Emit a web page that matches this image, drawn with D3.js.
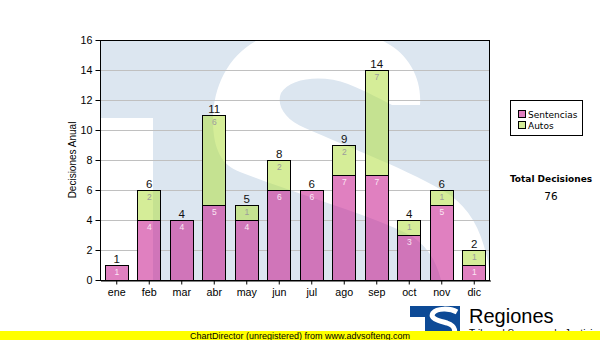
<!DOCTYPE html>
<html>
<head>
<meta charset="utf-8">
<script src="https://cdn.jsdelivr.net/npm/d3@7/dist/d3.min.js"></script>
<style>
  html, body { margin: 0; padding: 0; background: #ffffff; }
  svg { display: block; }
</style>
</head>
<body>
<svg id="chart" width="600" height="340"></svg>
<script>
// Monthly decisions, stacked by type
const months = ["ene", "feb", "mar", "abr", "may", "jun", "jul", "ago", "sep", "oct", "nov", "dic"];
const sentencias = [1, 4, 4, 5, 4, 6, 6, 7, 7, 3, 5, 1];
const autos = [0, 2, 0, 6, 1, 2, 0, 2, 7, 1, 1, 1];
const seriesNames = ["Sentencias", "Autos"];
const yTicks = [0, 2, 4, 6, 8, 10, 12, 14, 16];
const yTitle = "Decisiones Anual";
const totalTitle = "Total Decisiones";
const brandName = "Regiones";
const brandSub = "Tribunal Supremo de Justicia";
const footerText = "ChartDirector (unregistered) from www.advsofteng.com";

// semi-transparent fills so the emblem shows through the bars
const colors = { sentencias: "rgb(199,24,140)", autos: "rgb(179,222,68)" };
const fillAlpha = 0.55;
const swatchColors = { sentencias: "#e07fc0", autos: "#d5ed98" };
const innerLabelColors = { sentencias: "#fbe6f3", autos: "#9c9c9c" };

const svg = d3.select("#chart");
const plot = { left: 100, top: 40, right: 490, bottom: 280 };
const pw = plot.right - plot.left, ph = plot.bottom - plot.top;

const x = d3.scaleBand().domain(months).range([plot.left, plot.right])
  .paddingInner(0.283).paddingOuter(0.1415);
const y = d3.scaleLinear().domain([0, 16]).range([plot.bottom, plot.top]);

const rows = months.map((m, i) => ({ month: m, sentencias: sentencias[i], autos: autos[i] }));
const keys = ["sentencias", "autos"];
const stacked = d3.stack().keys(keys)(rows);

const bx = d => Math.round(x(d.data ? d.data.month : d.month)) + 0.5;
const bw = Math.round(x.bandwidth());

const defs = svg.append("defs");
defs.append("clipPath").attr("id", "plotClip")
  .append("rect").attr("x", plot.left).attr("y", plot.top).attr("width", pw).attr("height", ph);

// grid lines are hidden behind the bars
const gridMask = defs.append("mask").attr("id", "gridMask").attr("maskUnits", "userSpaceOnUse")
  .attr("x", 0).attr("y", 0).attr("width", 600).attr("height", 340);
gridMask.append("rect").attr("x", 0).attr("y", 0).attr("width", 600).attr("height", 340).attr("fill", "#ffffff");
gridMask.selectAll("rect.bar").data(rows).join("rect").attr("class", "bar")
  .attr("x", d => bx(d)).attr("y", d => Math.round(y(d.sentencias + d.autos)) + 0.5)
  .attr("width", bw).attr("height", d => plot.bottom - Math.round(y(d.sentencias + d.autos)))
  .attr("fill", "#000000");

// plot background
svg.append("rect").attr("x", plot.left).attr("y", plot.top).attr("width", pw).attr("height", ph)
  .attr("fill", "#ffffff");

// large emblem drawn faintly across the plot area
const mark = svg.append("g").attr("clip-path", "url(#plotClip)");
const markG = mark.append("g")
  .attr("transform", `translate(${plot.left},${plot.top}) scale(${pw / 390},${ph / 240})`);
markG.append("rect").attr("x", 0).attr("y", 0).attr("width", 390).attr("height", 240).attr("fill", "#dce6f0");
markG.append("rect").attr("x", 0).attr("y", 78).attr("width", 53).attr("height", 170).attr("fill", "#ffffff");
markG.append("path").attr("fill", "#ffffff")
  .attr("transform", "translate(-100,-40)")
  .attr("d", "M392,105 L420,105 C422,80 410,55 385,42 C355,25 295,25 262,38 C230,52 213,85 213,120 " +
             "C213,150 222,165 240,172 C300,195 370,215 410,235 C430,248 440,265 445,300 L492,300 " +
             "C490,250 478,215 450,195 C410,170 350,148 305,128 C285,120 276,105 281,93 " +
             "C290,78 322,74 348,84 C368,92 382,100 392,105 Z");

// horizontal grid
svg.append("g").attr("mask", "url(#gridMask)")
  .selectAll("line").data(yTicks.filter(t => t > 0 && t < 16)).join("line")
  .attr("x1", plot.left).attr("x2", plot.right)
  .attr("y1", d => Math.round(y(d)) + 0.5).attr("y2", d => Math.round(y(d)) + 0.5)
  .attr("stroke", "#c0c0c0").attr("stroke-width", 1);

// stacked bars
const barG = svg.append("g");
stacked.forEach(layer => {
  barG.append("g").selectAll("rect")
    .data(layer.filter(d => d[1] > d[0]))
    .join("rect")
    .attr("x", d => bx(d))
    .attr("y", d => Math.round(y(d[1])) + 0.5)
    .attr("width", bw)
    .attr("height", d => Math.round(y(d[0])) - Math.round(y(d[1])))
    .attr("fill", colors[layer.key]).attr("fill-opacity", fillAlpha)
    .attr("stroke", "#000000").attr("stroke-width", 1);
});

// value labels inside segments
stacked.forEach(layer => {
  svg.append("g").selectAll("text")
    .data(layer.filter(d => d[1] > d[0]))
    .join("text")
    .attr("x", d => x(d.data.month) + x.bandwidth() / 2 + 0.5)
    .attr("y", d => y(d[1]) + 10)
    .attr("text-anchor", "middle")
    .attr("font-family", "Liberation Sans, Arial, sans-serif")
    .attr("font-size", "8.5px")
    .attr("fill", innerLabelColors[layer.key])
    .text(d => d[1] - d[0]);
});

// totals above bars
svg.append("g").selectAll("text").data(rows).join("text")
  .attr("x", d => x(d.month) + x.bandwidth() / 2 + 0.5)
  .attr("y", d => y(d.sentencias + d.autos) - 2.5)
  .attr("text-anchor", "middle")
  .attr("font-family", "Liberation Sans, Arial, sans-serif")
  .attr("font-size", "11.5px")
  .attr("fill", "#111111")
  .text(d => d.sentencias + d.autos);

// plot frame
svg.append("rect").attr("x", plot.left + 0.5).attr("y", plot.top + 0.5)
  .attr("width", pw - 1).attr("height", ph).attr("fill", "none")
  .attr("stroke", "#000000").attr("stroke-width", 1);

// axes
const yAxis = d3.axisLeft(y).tickValues(yTicks).tickSize(5).tickPadding(3);
const gy = svg.append("g").attr("transform", `translate(${plot.left + 0.5},0)`).call(yAxis);
gy.select(".domain").remove();
gy.selectAll("line").attr("stroke", "#000000");
gy.selectAll("text").attr("font-family", "Liberation Sans, Arial, sans-serif")
  .attr("font-size", "10.7px").attr("fill", "#000000");

const xAxis = d3.axisBottom(x).tickSize(4).tickPadding(4).tickSizeOuter(0);
const gx = svg.append("g").attr("transform", `translate(0.5,${plot.bottom + 0.5})`).call(xAxis);
gx.select(".domain").attr("stroke", "#000000");
gx.selectAll("line").attr("stroke", "#000000");
gx.selectAll("text").attr("font-family", "Liberation Sans, Arial, sans-serif")
  .attr("font-size", "10.7px").attr("fill", "#000000");

// y axis title
svg.append("text")
  .attr("transform", `translate(75.5,${(plot.top + plot.bottom) / 2}) rotate(-90)`)
  .attr("text-anchor", "middle")
  .attr("font-family", "Liberation Sans, Arial, sans-serif")
  .attr("font-size", "10px").attr("fill", "#000000")
  .text(yTitle);

// legend
const lg = svg.append("g");
lg.append("rect").attr("x", 510.5).attr("y", 100.5).attr("width", 72).attr("height", 35)
  .attr("fill", "#ffffff").attr("stroke", "#000000");
seriesNames.forEach((name, i) => {
  lg.append("rect").attr("x", 518.5).attr("y", 110.5 + i * 11).attr("width", 7).attr("height", 7)
    .attr("fill", swatchColors[keys[i]]).attr("stroke", "#000000");
  lg.append("text").attr("x", 528).attr("y", 117.5 + i * 11)
    .attr("font-family", "DejaVu Sans, Verdana, sans-serif").attr("font-size", "9px")
    .attr("fill", "#000000").text(name);
});

// grand total
svg.append("text").attr("x", 551).attr("y", 182).attr("text-anchor", "middle")
  .attr("font-family", "DejaVu Sans, Verdana, sans-serif").attr("font-size", "9px")
  .attr("font-weight", "bold").attr("fill", "#000000").text(totalTitle);
svg.append("text").attr("x", 551).attr("y", 200).attr("text-anchor", "middle")
  .attr("font-family", "DejaVu Sans, Verdana, sans-serif").attr("font-size", "10.5px")
  .attr("fill", "#000000").text(d3.sum(sentencias) + d3.sum(autos));

// brand logo
const logo = svg.append("g");
logo.append("rect").attr("x", 410).attr("y", 306).attr("width", 50).attr("height", 34).attr("fill", "#0d4a96");
logo.append("rect").attr("x", 410).attr("y", 317).attr("width", 15).attr("height", 23).attr("fill", "#ffffff");
logo.append("path").attr("fill", "none").attr("stroke", "#ffffff").attr("stroke-width", 5)
  .attr("d", "M457,312 C450,308 437,308 433,313 C429,319 440,321 447,323 C456,326 457,333 450,336 C444,339 434,337 428,334");
logo.append("text").attr("x", 469).attr("y", 322.5)
  .attr("font-family", "Liberation Sans, Arial, sans-serif").attr("font-size", "20px")
  .attr("fill", "#000000").text(brandName);
logo.append("text").attr("x", 469).attr("y", 336.8)
  .attr("font-family", "Liberation Sans, Arial, sans-serif").attr("font-size", "10px")
  .attr("fill", "#000000").text(brandSub);

// footer band
svg.append("rect").attr("x", 0).attr("y", 331).attr("width", 600).attr("height", 9).attr("fill", "#ffff00");
svg.append("text").attr("x", 300).attr("y", 338.5).attr("text-anchor", "middle")
  .attr("font-family", "Liberation Sans, Arial, sans-serif").attr("font-size", "9px")
  .attr("fill", "#000000").text(footerText);
</script>
</body>
</html>
